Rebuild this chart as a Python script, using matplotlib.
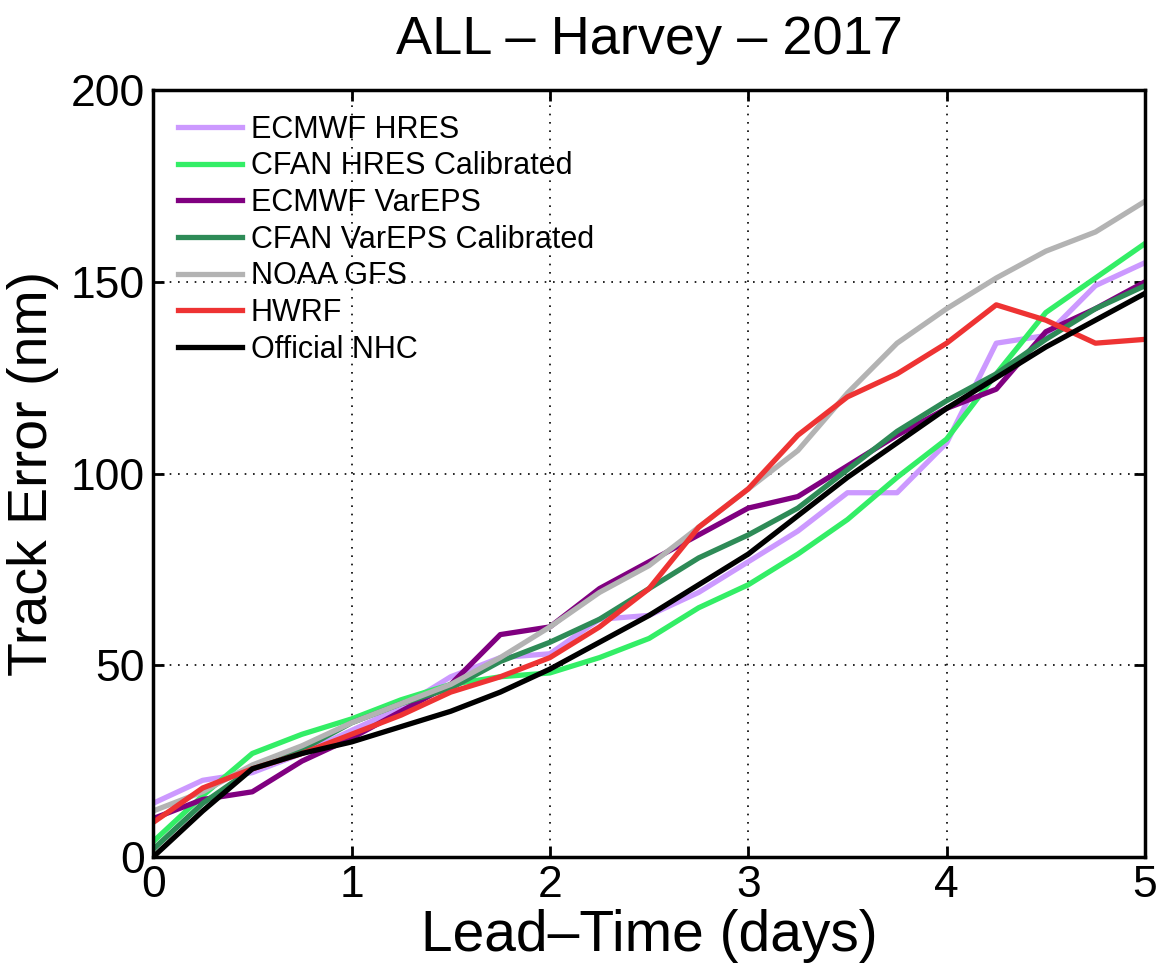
import numpy as np
import matplotlib.pyplot as plt

plt.rcParams['font.family'] = ['Liberation Sans', 'DejaVu Sans']

# lead time in days, 6-hourly
lead_days = [0, 0.25, 0.5, 0.75, 1, 1.25, 1.5, 1.75, 2, 2.25, 2.5,
             2.75, 3, 3.25, 3.5, 3.75, 4, 4.25, 4.5, 4.75, 5]

ecmwf_hres = [14, 20, 22, 27, 33, 39, 47, 52, 53, 62, 63,
              69, 77, 85, 95, 95, 108, 134, 136, 149, 155]
cfan_hres = [4, 16, 27, 32, 36, 41, 45, 47, 48, 52, 57,
             65, 71, 79, 88, 99, 109, 126, 142, 151, 160]
ecmwf_vareps = [10, 15, 17, 25, 31, 38, 45, 58, 60, 70, 77,
                84, 91, 94, 102, 110, 117, 122, 137, 143, 150]
cfan_vareps = [2, 14, 23, 28, 35, 40, 44, 51, 56, 62, 70,
               78, 84, 91, 101, 111, 119, 126, 135, 143, 149]
noaa_gfs = [12, 17, 24, 29, 35, 40, 45, 52, 60, 69, 76,
            86, 96, 106, 121, 134, 143, 151, 158, 163, 171]
hwrf = [9, 18, 23, 27, 32, 37, 43, 47, 52, 60, 70,
        86, 96, 110, 120, 126, 134, 144, 140, 134, 135]
official_nhc = [0, 12, 23, 27, 30, 34, 38, 43, 49, 56, 63,
                71, 79, 89, 99, 108, 117, 125, 133, 140, 147]

series = [
    ('ECMWF HRES', ecmwf_hres, '#cc99ff'),
    ('CFAN HRES Calibrated', cfan_hres, '#33ee66'),
    ('ECMWF VarEPS', ecmwf_vareps, '#800080'),
    ('CFAN VarEPS Calibrated', cfan_vareps, '#2e8b57'),
    ('NOAA GFS', noaa_gfs, '#b3b3b3'),
    ('HWRF', hwrf, '#ee3333'),
    ('Official NHC', official_nhc, 'black'),
]

fig = plt.figure(figsize=(11.69, 9.69), dpi=100)
ax = fig.add_axes([0.131, 0.1156, 0.8485, 0.7914])

for name, vals, col in series:
    ax.plot(lead_days, vals, color=col, linewidth=3.8, label=name)

ax.set_xlim(0, 5)
ax.set_ylim(0, 200)
ax.set_xticks([0, 1, 2, 3, 4, 5])
ax.set_yticks([0, 50, 100, 150, 200])
ax.grid(True, color='black', linestyle=(0, (1, 4)), linewidth=1.2)
ax.tick_params(direction='in', length=8, width=2, labelsize=32,
               top=True, right=True, pad=6)
for sp in ax.spines.values():
    sp.set_linewidth(2.5)

ax.set_xlabel('Lead\u2013Time (days)', fontsize=41, labelpad=2)
ax.set_ylabel('Track Error (nm)', fontsize=40, labelpad=8)
ax.set_title('ALL \u2013 Harvey \u2013 2017', fontsize=39, pad=26)

ax.legend(loc='upper left', frameon=False, fontsize=22, handlelength=2.1,
          labelspacing=0.22, handletextpad=0.3, borderaxespad=0.3,
          borderpad=0.5)

fig.savefig('out.png', dpi=100, facecolor='white')
